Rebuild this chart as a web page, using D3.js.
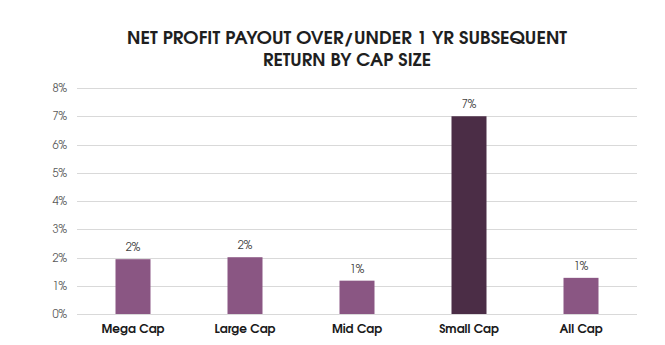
<!DOCTYPE html>
<html>
<head>
<meta charset="utf-8">
<script src="https://cdn.jsdelivr.net/npm/d3@7"></script>
<style>
  html, body { margin: 0; padding: 0; background: #fff; }
  svg { display: block; }
</style>
</head>
<body>
<div id="chart"></div>
<script>
const categories = ["Mega Cap", "Large Cap", "Mid Cap", "Small Cap", "All Cap"];
const values = [0.0194, 0.0201, 0.0118, 0.0700, 0.0128];
const valueLabels = ["2%", "2%", "1%", "7%", "1%"];
const barColors = ["#8A5683", "#8A5683", "#8A5683", "#4B2D46", "#8A5683"];
const yTicks = [0, 0.01, 0.02, 0.03, 0.04, 0.05, 0.06, 0.07, 0.08];
const titleLines = ["NET PROFIT PAYOUT OVER/UNDER 1 YR SUBSEQUENT", "RETURN BY CAP SIZE"];

(function () {
const W = 665, H = 345;
const mLeft = 77, mRight = 637, mTop = 88, mBottom = 314;
const bodyFont = "'URW Gothic', 'TeX Gyre Adventor', Lato, 'DejaVu Sans', sans-serif";

const svg = d3.select("#chart").append("svg").attr("width", W).attr("height", H);

const x = d3.scaleBand().domain(categories).range([mLeft, mRight]).paddingInner(0.6875).paddingOuter(0.34375);
const y = d3.scaleLinear().domain([0, 0.08]).range([mBottom, mTop]);

// gridlines
svg.append("g").selectAll("line").data(yTicks).join("line")
  .attr("x1", mLeft).attr("x2", mRight)
  .attr("y1", d => Math.round(y(d)) + 0.5).attr("y2", d => Math.round(y(d)) + 0.5)
  .attr("stroke", "#d9d9d9").attr("stroke-width", 1);

// y axis labels
const yAxis = d3.axisLeft(y).tickValues(yTicks).tickFormat(d3.format(".0%")).tickSize(0).tickPadding(10);
const yg = svg.append("g").attr("transform", `translate(${mLeft},0)`).call(yAxis);
yg.select(".domain").remove();
yg.selectAll("text").attr("font-family", bodyFont)
  .attr("font-size", 11).attr("fill", "#595959");

// bars
svg.append("g").selectAll("rect").data(categories).join("rect")
  .attr("x", d => x(d)).attr("width", x.bandwidth())
  .attr("y", (d, i) => y(values[i])).attr("height", (d, i) => y(0) - y(values[i]))
  .attr("fill", (d, i) => barColors[i]);

// value labels
svg.append("g").selectAll("text").data(categories).join("text")
  .attr("x", d => x(d) + x.bandwidth() / 2)
  .attr("y", (d, i) => y(values[i]) - 8)
  .attr("text-anchor", "middle")
  .attr("font-family", bodyFont)
  .attr("font-size", 11).attr("fill", "#404040")
  .text((d, i) => valueLabels[i]);

// x axis labels
const xAxis = d3.axisBottom(x).tickSize(0).tickPadding(10);
const xg = svg.append("g").attr("transform", `translate(0,${mBottom})`).call(xAxis);
xg.select(".domain").remove();
xg.selectAll("text").attr("font-family", bodyFont)
  .attr("font-size", 12).attr("font-weight", "bold").attr("fill", "#1a1a1a");

// title
const titleWidths = [440, 168];
svg.append("g").selectAll("text").data(titleLines).join("text")
  .attr("x", 347).attr("y", (d, i) => 44 + i * 21.5)
  .attr("text-anchor", "middle")
  .attr("font-family", bodyFont)
  .attr("font-size", 17).attr("font-weight", "bold").attr("fill", "#1f1f1f")
  .attr("textLength", (d, i) => titleWidths[i])
  .attr("lengthAdjust", "spacingAndGlyphs")
  .text(d => d);
})();
</script>
</body>
</html>
